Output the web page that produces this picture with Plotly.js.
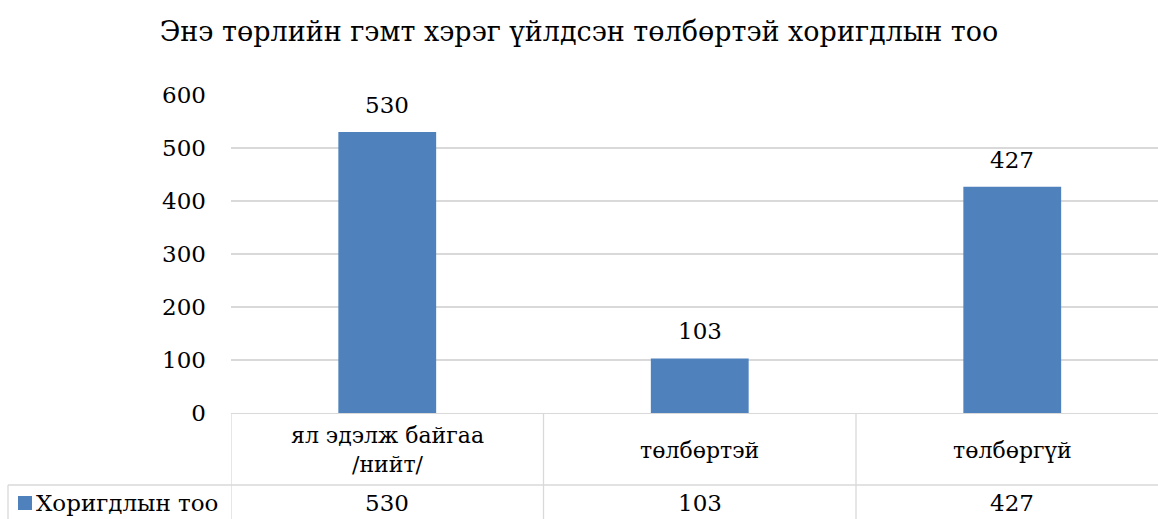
<!DOCTYPE html>
<html><head><meta charset="utf-8">
<script src="https://cdn.plot.ly/plotly-3.0.1.min.js"></script>
<style>html,body{margin:0;padding:0;background:#fff}#chart{width:1158px;height:519px}</style>
</head><body><div id="chart"></div>
<script>
const categories = ["ял эдэлж байгаа /нийт/", "төлбөртэй", "төлбөргүй"];
const catLabels = ["ял эдэлж байгаа<br>/нийт/", "төлбөртэй", "төлбөргүй"];
const seriesName = "Хоригдлын тоо";
const values = [530, 103, 427];
const titleText = "Энэ төрлийн гэмт хэрэг үйлдсэн төлбөртэй хоригдлын тоо";

const FONT = "'DejaVu Serif', serif";
const GRID = "#d9d9d9";
const BAR = "#4f81bd";

const L = 231, T = 95, B = 106, W = 1158, H = 519;
const plotH = H - T - B, plotW = W - L;
const py = px => (H - B - px) / plotH; // pixel y -> paper y
const pxX = px => (px - L) / plotW;

const shapes = [];
const line = (x0, y0, x1, y1, xref) => shapes.push({type:'line', xref: xref||'paper', yref:'paper', x0, y0, x1, y1, line:{color:GRID, width:1.3}});
for (let i = 0; i < categories.length; i++) line(i - 0.5, py(413), i - 0.5, py(519), 'x');
line(pxX(8), py(485), 1, py(485));
line(pxX(8), py(485), pxX(8), py(519));
// legend key
shapes.push({type:'rect', xref:'paper', yref:'paper', x0:pxX(18), x1:pxX(32), y0:py(510), y1:py(496), fillcolor:BAR, line:{width:0}});

const annotations = [];
categories.forEach((c, i) => {
  annotations.push({xref:'x', yref:'paper', x:c, y:py(450), yanchor:'middle', text:catLabels[i], showarrow:false, font:{family:FONT, size:22, color:'#000'}, align:'center'});
  annotations.push({xref:'x', yref:'paper', x:c, y:py(503), yanchor:'middle', text:String(values[i]), showarrow:false, font:{family:FONT, size:23, color:'#000'}});
  annotations.push({xref:'x', yref:'y', x:c, y:values[i], yanchor:'bottom', yshift:12, text:String(values[i]), showarrow:false, font:{family:FONT, size:23, color:'#000'}});
});
annotations.push({xref:'paper', yref:'paper', x:pxX(34), xanchor:'left', y:py(503), yanchor:'middle', text:seriesName, showarrow:false, font:{family:FONT, size:23, color:'#000'}});

Plotly.newPlot('chart', [{
  type:'bar', x:categories, y:values, name:seriesName,
  marker:{color:BAR}, hoverinfo:'skip'
}], {
  width:W, height:H,
  margin:{l:L, r:0, t:T, b:B},
  paper_bgcolor:'#fff', plot_bgcolor:'#fff',
  title:{text:titleText, x:0.5, xref:'container', xanchor:'center', y:1 - 32/H, yanchor:'middle', font:{family:FONT, size:27, color:'#000'}},
  showlegend:false,
  bargap:0.687,
  xaxis:{type:'category', range:[-0.5, -0.5 + plotW/312.5], showticklabels:false, showgrid:false, zeroline:false, showline:true, linecolor:GRID, linewidth:1.3, ticks:''},
  yaxis:{range:[0,600], dtick:100, showgrid:true, gridcolor:GRID, gridwidth:1.3, zeroline:false, showline:false, ticks:'', ticklabelstandoff:24, tickfont:{family:FONT, size:23, color:'#000'}},
  shapes, annotations
}, {displayModeBar:false, staticPlot:true});
</script></body></html>
